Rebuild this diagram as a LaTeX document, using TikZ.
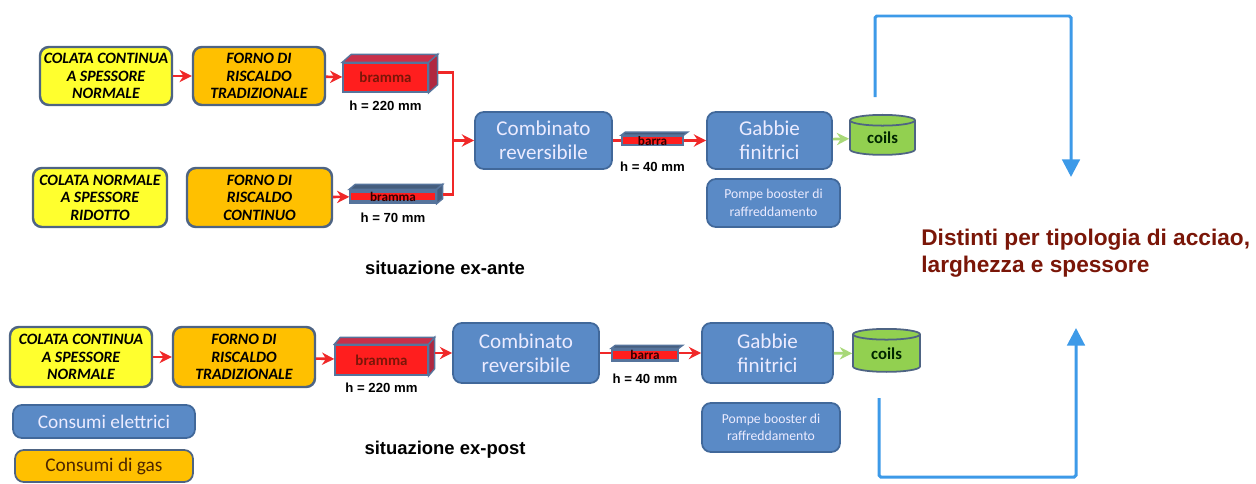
\documentclass[tikz,border=0pt]{standalone}
\usepackage{fontspec}
\setmainfont{Carlito}
\setsansfont{Liberation Sans}
\usetikzlibrary{positioning,shapes.geometric,arrows.meta}
\definecolor{yellowfill}{HTML}{FFFF2E}
\definecolor{orangefill}{HTML}{FFC000}
\definecolor{boxline}{HTML}{4E6483}
\definecolor{bluefill}{HTML}{5A8AC6}
\definecolor{blueline}{HTML}{41689A}
\definecolor{redfill}{HTML}{FF1E1E}
\definecolor{redtop}{HTML}{C8304A}
\definecolor{redside}{HTML}{B02840}
\definecolor{slate}{HTML}{56749C}
\definecolor{greenfill}{HTML}{92D050}
\definecolor{arrowred}{HTML}{F02828}
\definecolor{arrowgreen}{HTML}{A8D878}
\definecolor{loopblue}{HTML}{3D9AE8}
\definecolor{darkred}{HTML}{7A1608}
\tikzset{
  stagebox/.style={draw=boxline, line width=1.4pt, rounded corners=5pt, align=center,
    inner sep=1pt, font=\fontsize{9}{10}\selectfont\bfseries\itshape},
  castbox/.style={stagebox, fill=yellowfill},
  ovenbox/.style={stagebox, fill=orangefill},
  millbox/.style={draw=blueline, line width=1pt, rounded corners=5pt, fill=bluefill,
    text=white!92!blue, align=center, inner sep=1pt, font=\fontsize{12}{13.5}\selectfont},
  pumpbox/.style={millbox, font=\fontsize{7.8}{10}\selectfont},
  keybox/.style={millbox, font=\fontsize{11}{12}\selectfont},
  slab/.style={draw=slate, line width=.8pt, fill=redfill, inner sep=0pt,
    text=darkred, font=\fontsize{8.5}{9}\selectfont\bfseries},
  slabtop/.style={draw=slate, line width=.8pt, fill=redtop},
  slabside/.style={draw=slate, line width=.8pt, fill=redside},
  thinslab/.style={draw=slate, line width=.8pt, fill=slate, inner sep=0pt,
    text=black!80!red, font=\fontsize{7.5}{8}\selectfont\bfseries,
    path picture={\fill[redfill] ([yshift=-2pt]path picture bounding box.west) rectangle ([yshift=2pt]path picture bounding box.east);}},
  thintop/.style={draw=slate, line width=.8pt, fill=slate!80!black},
  coilbox/.style={cylinder, shape border rotate=90, aspect=.35, draw=boxline, line width=1pt,
    fill=greenfill, inner sep=0pt, font=\fontsize{9.5}{10}\selectfont\bfseries, text=black!85!green},
  hlabel/.style={font=\sffamily\bfseries\fontsize{7.5}{8}\selectfont, inner sep=1pt},
  caption/.style={font=\sffamily\bfseries\fontsize{10.5}{12}\selectfont},
  redarrow/.style={arrowred, line width=1.5pt, -{Stealth[length=7pt,width=7pt]}},
  redline/.style={arrowred, line width=1.5pt},
  greenarrow/.style={arrowgreen, line width=1.5pt, -{Stealth[length=7pt,width=7pt]}},
  looparrow/.style={loopblue, line width=1.7pt, rounded corners=1pt, -{Triangle[length=10pt,width=10pt]}}
}
\begin{document}
\begin{tikzpicture}[x=0.02cm,y=-0.02cm]
\useasboundingbox (0,0) rectangle (1256,483);
% situazione ex-ante
\node[castbox, minimum width=2.64cm, minimum height=1.16cm] (cc1) at (106,76) {COLATA CONTINUA\\A SPESSORE\\NORMALE};
\node[ovenbox, minimum width=2.64cm, minimum height=1.16cm] (fr1) at (259,76) {FORNO DI\\RISCALDO\\TRADIZIONALE};
\node[slab, minimum width=1.7cm, minimum height=.58cm] (br1) at (385.5,77.5) {bramma};
\draw[slabtop] (br1.north west) -- ++(9,-8) -- ([shift={(9,-8)}]br1.north east) -- (br1.north east) -- cycle;
\draw[slabside] (br1.north east) -- ++(9,-8) -- ([shift={(9,-8)}]br1.south east) -- (br1.south east) -- cycle;
\node[hlabel, below=.12cm of br1] (hb1) {h = 220 mm};
\node[castbox, minimum width=2.68cm, minimum height=1.18cm] (cn2) at (100,197.5) {COLATA NORMALE\\A SPESSORE\\RIDOTTO};
\node[ovenbox, minimum width=2.9cm, minimum height=1.18cm] (fr2) at (259.5,197.5) {FORNO DI\\RISCALDO\\CONTINUO};
\node[thinslab, minimum width=1.72cm, minimum height=.26cm] (br2) at (393,196.5) {bramma};
\draw[thintop] (br2.north west) -- ++(6,-5) -- ([shift={(6,-5)}]br2.north east) -- (br2.north east) -- cycle;
\draw[thintop] (br2.north east) -- ++(6,-5) -- ([shift={(6,-5)}]br2.south east) -- (br2.south east) -- cycle;
\node[hlabel, below=.14cm of br2] (hb2) {h = 70 mm};
\node[millbox, minimum width=2.74cm, minimum height=1.14cm] (cr1) at (543.5,140.5) {Combinato\\reversibile};
\node[millbox, minimum width=2.5cm, minimum height=1.14cm] (gf1) at (769.5,140.5) {Gabbie\\finitrici};
\node[pumpbox, minimum width=2.66cm, minimum height=.96cm] (pb1) at (773.5,203) {Pompe booster di\\raffreddamento};
\node[coilbox, minimum width=1.3cm, minimum height=.8cm] (co1) at (882.5,138) {coils};
\draw[redarrow] (cc1) -- (fr1);
\draw[redarrow] (fr1) -- (br1);
\draw[redarrow] (fr2) -- (br2);
\coordinate (jn) at (453,140.5);
\draw[redline] ([shift={(9,-5)}]br1.east) -| (jn) |- ([shift={(6,-2)}]br2.east);
\draw[redarrow] (jn) -- (cr1);
\draw[redarrow] (cr1) -- (gf1);
\node[thinslab, minimum width=1.22cm, minimum height=.18cm] (ba1) at (652.5,140.5) {barra};
\draw[thintop] (ba1.north west) -- ++(4,-3) -- ([shift={(4,-3)}]ba1.north east) -- (ba1.north east) -- cycle;
\node[hlabel, below=.28cm of ba1] (hb3) {h = 40 mm};
\draw[greenarrow] (gf1) -- (co1);
\node[caption] (ante) at (445,268) {situazione ex-ante};
% situazione ex-post
\node[castbox, minimum width=2.84cm, minimum height=1.2cm] (cc3) at (81,357) {COLATA CONTINUA\\A SPESSORE\\NORMALE};
\node[ovenbox, minimum width=2.84cm, minimum height=1.2cm] (fr3) at (244,357) {FORNO DI\\RISCALDO\\TRADIZIONALE};
\node[slab, minimum width=1.86cm, minimum height=.6cm] (br3) at (381.5,360) {bramma};
\draw[slabtop] (br3.north west) -- ++(6,-7) -- ([shift={(6,-7)}]br3.north east) -- (br3.north east) -- cycle;
\draw[slabside] (br3.north east) -- ++(6,-7) -- ([shift={(6,-7)}]br3.south east) -- (br3.south east) -- cycle;
\node[hlabel, below=.1cm of br3] (hb4) {h = 220 mm};
\node[millbox, minimum width=2.92cm, minimum height=1.2cm] (cr3) at (526,353) {Combinato\\reversibile};
\node[millbox, minimum width=2.62cm, minimum height=1.2cm] (gf3) at (767.5,353) {Gabbie\\finitrici};
\node[pumpbox, minimum width=2.76cm, minimum height=.98cm] (pb3) at (771,427.5) {Pompe booster di\\raffreddamento};
\node[coilbox, minimum width=1.34cm, minimum height=.86cm] (co3) at (886.5,353.5) {coils};
\draw[redarrow] (cc3) -- (fr3);
\draw[redarrow] (fr3) -- (br3);
\draw[redarrow] ([shift={(6,-7)}]br3.east) -- (cr3);
\draw[redarrow] (cr3) -- (gf3);
\node[thinslab, minimum width=1.32cm, minimum height=.24cm] (ba3) at (645,355) {barra};
\draw[thintop] (ba3.north west) -- ++(4,-3) -- ([shift={(4,-3)}]ba3.north east) -- (ba3.north east) -- cycle;
\node[hlabel, below=.2cm of ba3] (hb5) {h = 40 mm};
\draw[greenarrow] (gf3) -- (co3);
\node[caption] (post) at (445,450) {situazione ex-post};
\node[keybox, minimum width=3.64cm, minimum height=.66cm] (ke) at (104,421.5) {Consumi elettrici};
\node[keybox, fill=orangefill, draw=boxline, text=black!70!orange, minimum width=3.56cm, minimum height=.64cm] (kg) at (104,466) {Consumi di gas};
% tipologia
\node[anchor=north west, align=left, inner sep=0pt, text=darkred,
  font=\sffamily\bfseries\fontsize{12.9}{15.3}\selectfont] (dist) at (921,229) {Distinti per tipologia di acciao,\\larghezza e spessore};
\coordinate (ta) at (875,97);
\coordinate (tb) at (1071,177);
\coordinate (ua) at (879,398);
\coordinate (ub) at (1076,328);
\draw[looparrow] (ta) -- (875,16) -| (tb);
\draw[looparrow] (ua) -- (879,477) -| (ub);
\end{tikzpicture}
\end{document}
